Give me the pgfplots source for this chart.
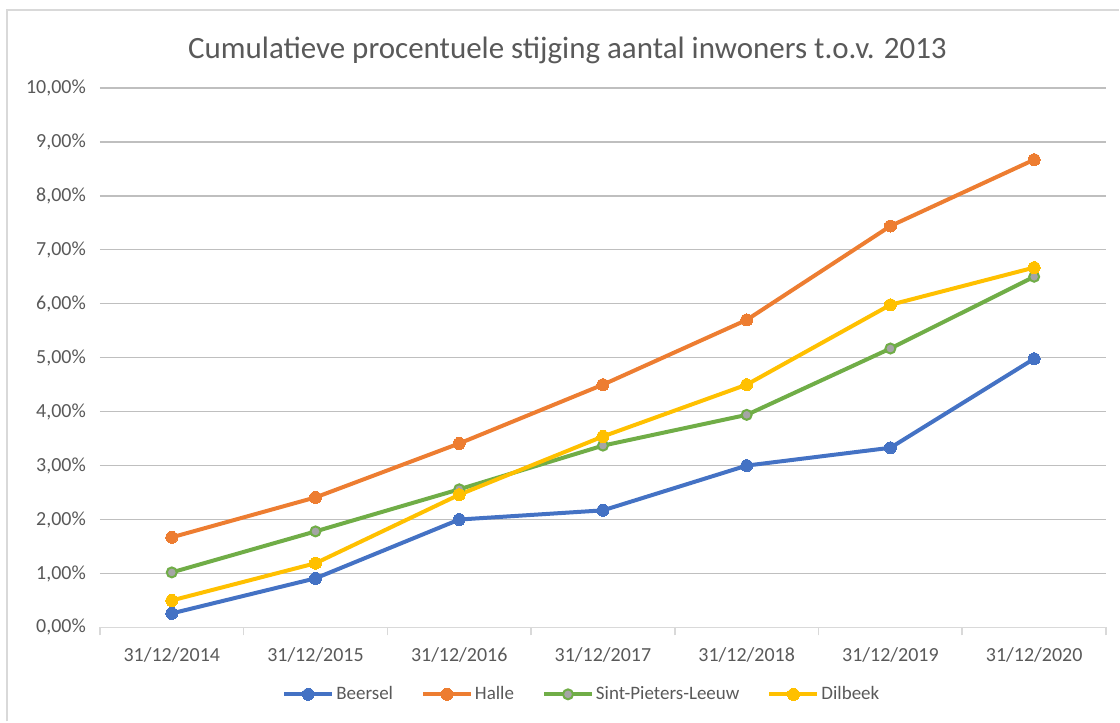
\documentclass[border=0pt]{standalone}
\usepackage{pgfplots}
\pgfplotsset{compat=1.18}
\usepackage{fontspec}
\setmainfont{Carlito}

\definecolor{beersel}{HTML}{4472C4}
\definecolor{halle}{HTML}{ED7D31}
\definecolor{spl}{HTML}{70AD47}
\definecolor{splfill}{HTML}{A5A5A5}
\definecolor{dilbeek}{HTML}{FFC000}
\definecolor{txt}{HTML}{595959}
\definecolor{grid}{HTML}{D9D9D9}

\begin{document}
\begin{tikzpicture}
% page frame (1 px = 0.5pt)
\path (0,0) rectangle (560pt,361pt);
\draw[grid, line width=1pt] (3.75pt,0) -- (3.75pt,356pt) -- (560pt,356pt);
\node[text=txt, font=\fontsize{15.5}{17}\selectfont] at (284pt,336pt)
  {Cumulatieve procentuele stijging aantal inwoners t.o.v. 2013};
\begin{axis}[
    at={(50pt,47pt)}, anchor=south west,
    scale only axis, width=503.5pt, height=270pt,
    xmin=-0.5, xmax=6.5, ymin=0, ymax=10,
    axis x line*=bottom, axis y line*=left,
    x axis line style={grid, line width=0.8pt, -},
    y axis line style={draw=none},
    xtick={-0.5,0.5,...,6.5},
    xticklabels={},
    major tick length=4pt, tick align=outside,
    major x tick style={grid, line width=0.8pt},
    extra x ticks={0,...,6},
    extra x tick labels={31/12/2014,31/12/2015,31/12/2016,31/12/2017,31/12/2018,31/12/2019,31/12/2020},
    extra x tick style={major tick length=0pt, grid=none},
    xmajorgrids=false,
    ytick={0,...,10},
    yticklabels={{0,00\%},{1,00\%},{2,00\%},{3,00\%},{4,00\%},{5,00\%},{6,00\%},{7,00\%},{8,00\%},{9,00\%},{10,00\%}},
    ymajorgrids, grid style={grid, line width=0.7pt},
    major y tick style={draw=none},
    tick label style={text=txt, font=\fontsize{10}{11}\selectfont},
    yticklabel style={xshift=0.5pt},
    xticklabel style={yshift=-6.5pt},
    legend columns=4,
    legend style={draw=none, fill=none, at={(0.48,-0.124)}, anchor=center,
        font=\fontsize{9.5}{10}\selectfont, text=txt,
        /tikz/every odd column/.append style={column sep=-1pt},
        /tikz/every even column/.append style={column sep=12pt}},
    legend image code/.code={
        \draw[#1, mark repeat=2, mark phase=2] plot coordinates {(0pt,0pt) (12pt,0pt) (24pt,0pt)};},
    every axis plot/.append style={line width=2pt, mark=*, mark size=3pt},
    clip=false,
]
\addplot[beersel, mark options={fill=beersel, draw=beersel, line width=0pt}] coordinates
  {(0,0.26) (1,0.91) (2,2.00) (3,2.17) (4,3.00) (5,3.33) (6,4.98)};
\addlegendentry{Beersel}
\addplot[halle, mark options={fill=halle, draw=halle, line width=0pt}] coordinates
  {(0,1.67) (1,2.41) (2,3.41) (3,4.50) (4,5.70) (5,7.44) (6,8.67)};
\addlegendentry{Halle}
\addplot[spl, mark size=2.5pt, mark options={fill=splfill, draw=spl, line width=1pt}] coordinates
  {(0,1.02) (1,1.78) (2,2.56) (3,3.37) (4,3.94) (5,5.17) (6,6.50)};
\addlegendentry{Sint-Pieters-Leeuw}
\addplot[dilbeek, mark options={fill=dilbeek, draw=dilbeek, line width=0pt}] coordinates
  {(0,0.50) (1,1.19) (2,2.46) (3,3.54) (4,4.50) (5,5.98) (6,6.67)};
\addlegendentry{Dilbeek}
\end{axis}
\end{tikzpicture}
\end{document}
